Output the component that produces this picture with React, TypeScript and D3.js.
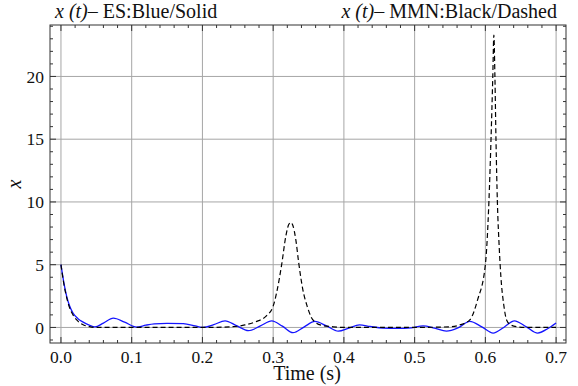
import * as d3 from 'd3'

// ES response (blue solid)
const esT = [0, 0.004, 0.008, 0.012, 0.017, 0.024, 0.032, 0.04, 0.048, 0.06, 0.074, 0.09, 0.107, 0.12, 0.132, 0.15, 0.173, 0.19, 0.201, 0.216, 0.232, 0.248, 0.265, 0.282, 0.298, 0.313, 0.328, 0.344, 0.359, 0.376, 0.392, 0.407, 0.422, 0.437, 0.455, 0.475, 0.495, 0.512, 0.528, 0.545, 0.562, 0.578, 0.595, 0.611, 0.626, 0.641, 0.658, 0.674, 0.688, 0.7]
const esX = [5.0, 3.6, 2.5, 1.75, 1.15, 0.7, 0.4, 0.18, 0.04, 0.35, 0.74, 0.42, 0.03, 0.18, 0.28, 0.32, 0.3, 0.12, 0.0, 0.22, 0.53, 0.15, -0.26, 0.12, 0.53, 0.1, -0.42, 0.05, 0.48, 0.1, -0.3, -0.05, 0.2, 0.08, -0.05, -0.08, -0.03, 0.13, -0.05, -0.3, -0.02, 0.48, 0.05, -0.45, 0.0, 0.53, 0.05, -0.45, -0.1, 0.35]

// MMN response (black dashed)
const mmnT = [0, 0.004, 0.008, 0.012, 0.017, 0.024, 0.032, 0.04, 0.05, 0.1, 0.2, 0.24, 0.26, 0.275, 0.29, 0.3, 0.305, 0.312, 0.318, 0.322, 0.325, 0.328, 0.332, 0.336, 0.342, 0.348, 0.354, 0.361, 0.37, 0.385, 0.4, 0.45, 0.5, 0.55, 0.564, 0.578, 0.589, 0.6, 0.605, 0.608, 0.6105, 0.612, 0.6135, 0.615, 0.617, 0.6195, 0.622, 0.626, 0.63, 0.636, 0.645, 0.66, 0.7]
const mmnX = [5.0, 3.5, 2.4, 1.6, 1.0, 0.5, 0.2, 0.06, 0.0, 0.0, 0.0, 0.05, 0.2, 0.45, 0.9, 1.7, 2.8, 5.0, 7.3, 8.2, 8.37, 8.1, 7.0, 5.2, 3.0, 1.7, 0.8, 0.35, 0.15, 0.05, 0.0, 0.0, 0.0, 0.05, 0.2, 0.6, 2.2, 5.0, 10, 15, 20, 23.3, 20, 15, 10, 6.5, 4.0, 1.8, 0.6, 0.2, 0.05, 0.0, 0.0]

const xTicks = [0, 0.1, 0.2, 0.3, 0.4, 0.5, 0.6, 0.7]
const yTicks = [0, 5, 10, 15, 20]

const width = 578, height = 386
const margin = { top: 25, right: 12, bottom: 43, left: 50 }
const serif = 'Liberation Serif'

export default function App() {
  const x = d3.scaleLinear().domain([-0.0155, 0.714]).range([margin.left, width - margin.right])
  const y = d3.scaleLinear().domain([-1.24, 24.1]).range([height - margin.bottom, margin.top])
  const [x0, x1] = x.range()
  const [y0, y1] = y.range()

  const minorX = d3.range(1, 36).map(i => i * 0.02).filter((_, i) => (i + 1) % 5 !== 0)
  const minorY = d3.range(-1, 25).filter(v => v % 5 !== 0)

  const line = d3.line<[number, number]>().x(d => x(d[0])).y(d => y(d[1])).curve(d3.curveMonotoneX)
  const esPath = line(esT.map((t, i) => [t, esX[i]] as [number, number])) ?? ''
  const mmnPath = line(mmnT.map((t, i) => [t, mmnX[i]] as [number, number])) ?? ''

  const xTickLines = (vals: number[], len: number) => vals.flatMap(v => [
    <line key={`xb${v}`} x1={x(v)} x2={x(v)} y1={y0} y2={y0 - len} />,
    <line key={`xt${v}`} x1={x(v)} x2={x(v)} y1={y1} y2={y1 + len} />,
  ])
  const yTickLines = (vals: number[], len: number) => vals.flatMap(v => [
    <line key={`yl${v}`} y1={y(v)} y2={y(v)} x1={x0} x2={x0 + len} />,
    <line key={`yr${v}`} y1={y(v)} y2={y(v)} x1={x1} x2={x1 - len} />,
  ])

  return (
    <svg width={width} height={height}
      style={{ position: 'absolute', left: 0, top: 0, background: '#fff' }}>
      <g stroke="#a6a6a6" strokeWidth={1}>
        {xTicks.map(v => <line key={v} x1={x(v)} x2={x(v)} y1={y0} y2={y1} />)}
        {yTicks.map(v => <line key={v} x1={x0} x2={x1} y1={y(v)} y2={y(v)} />)}
      </g>
      <g stroke="#333" strokeWidth={1}>
        {xTickLines(xTicks, 6)}
        {xTickLines(minorX, 3)}
        {yTickLines(yTicks, 6)}
        {yTickLines(minorY, 3)}
      </g>
      <path d={esPath} fill="none" stroke="#1414ff" strokeWidth={1.3} />
      <path d={mmnPath} fill="none" stroke="#000" strokeWidth={1.2} strokeDasharray="5,3" />
      <rect x={x0} y={y1} width={x1 - x0} height={y0 - y1} fill="none" stroke="#333" strokeWidth={1} />

      {xTicks.map(v => (
        <text key={v} x={x(v)} y={363} textAnchor="middle" fontFamily={serif} fontSize={17.5} fill="#111">
          {v.toFixed(1)}
        </text>
      ))}
      {yTicks.map(v => (
        <text key={v} x={44} y={y(v)} dy="0.36em" textAnchor="end" fontFamily={serif} fontSize={17.5} fill="#111">
          {v}
        </text>
      ))}
      <text x={307} y={380} textAnchor="middle" fontFamily={serif} fontSize={20} fill="#111">Time (s)</text>
      <text transform="translate(21,184) rotate(-90)" textAnchor="middle"
        fontFamily={serif} fontStyle="italic" fontSize={20} fill="#111">x</text>

      <text x={55} y={18} fontFamily={serif} fontSize={20} fill="#111">
        <tspan fontStyle="italic">x (t)</tspan>
        <tspan>– ES:Blue/Solid</tspan>
      </text>
      <text x={557} y={18} fontFamily={serif} fontSize={20} fill="#111" textAnchor="end">
        <tspan fontStyle="italic">x (t)</tspan>
        <tspan>– MMN:Black/Dashed</tspan>
      </text>
    </svg>
  )
}
